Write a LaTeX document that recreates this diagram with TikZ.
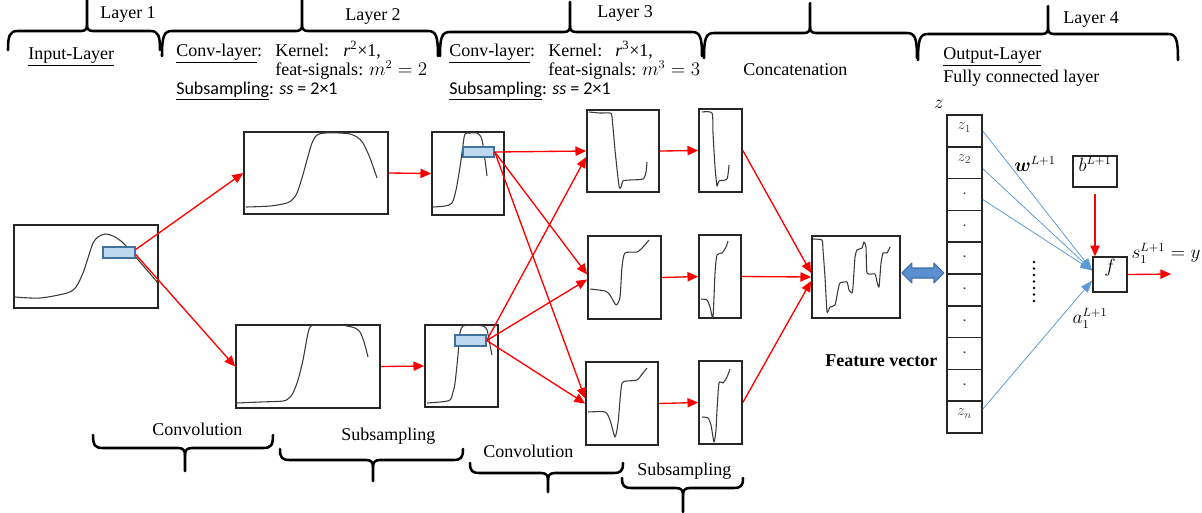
\documentclass[tikz,border=0pt]{standalone}
\usepackage{fontspec}
\usepackage{amsmath}
\setmainfont{Liberation Serif}
\newfontfamily\calfont{Carlito}
\usetikzlibrary{arrows.meta,fit,calc}

\definecolor{sigline}{HTML}{3A3A3A}
\definecolor{winfill}{HTML}{BDD7EE}
\definecolor{windraw}{HTML}{41719C}
\definecolor{wline}{HTML}{5B9BD5}
\definecolor{dblfill}{HTML}{5B8FCF}
\definecolor{dbldraw}{HTML}{3F6FA8}

\tikzset{
  plotbox/.style={draw=black!85, line width=1.3pt, inner sep=0pt, fill=white},
  winbox/.style={draw=windraw, fill=winfill, line width=1.1pt, inner sep=0pt},
  cellbox/.style={draw=black!85, line width=1.2pt, inner sep=0pt, fill=white,
                  font=\fontsize{12}{14}\selectfont, text=black!75},
  sig/.style={draw=sigline, line width=0.8pt, line join=round},
  flow/.style={red, line width=1pt, -{Triangle[length=8pt,width=7pt]}},
  wirehead/.style={wline, line width=0.6pt, -{Triangle[length=9pt,width=6.5pt]}},
  brace/.style={line width=1.9pt, line cap=round, line join=round},
  txt/.style={inner sep=0pt, anchor=base west},
  ctxt/.style={inner sep=0pt, anchor=center},
}

% curly brace: x-left, x-right, x-tip, y-line, y-ends, y-tip, cusp size (+ top, - bottom)
\newcommand\CurlyBrace[7]{%
  \draw[brace] (#1,#5) .. controls (#1,{#4+0.2*(#5-#4)}) and ({#1+2},#4) .. ({#1+10},#4)
     -- ({#3-(abs(#7))},#4) .. controls ({#3-2},#4) and (#3,{#4-0.3*(#7)}) .. (#3,{#4-(#7)})
     -- (#3,#6);
  \draw[brace] (#3,{#4-(#7)}) .. controls (#3,{#4-0.3*(#7)}) and ({#3+2},#4) .. ({#3+abs(#7)},#4)
     -- ({#2-10},#4) .. controls ({#2-2},#4) and (#2,{#4+0.2*(#5-#4)}) .. (#2,#5);}

\begin{document}
\begin{tikzpicture}[x=0.75pt, y=-0.75pt, font=\fontsize{13.5}{16}\selectfont]
\useasboundingbox (0,0) rectangle (1202,512);

% ---------- layer braces (top) ----------
\CurlyBrace{8}{160}{87}{31}{50}{-2}{6}
\CurlyBrace{162}{438}{302}{31}{56}{-2}{6}
\CurlyBrace{440}{702}{570}{32}{56}{2}{6}
\CurlyBrace{704}{917}{810}{33}{58}{3}{6}
\CurlyBrace{918}{1178}{1048}{34}{60}{6}{6}

\node[txt] (lay1) at (100,18) {Layer 1};
\node[txt] (lay2) at (345,20) {Layer 2};
\node[txt] (lay3) at (597,17) {Layer 3};
\node[txt] (lay4) at (1063,23) {Layer 4};

\node[txt] (inlay) at (28,59) {\underline{Input-Layer}};

\node[txt] (cl2) at (176,56) {\underline{Conv-layer}:};
\node[txt] (kr2) at (275,56) {Kernel:};
\node[txt] (rr2) at (343,56) {\textit{r}\textsuperscript{2}×1,};
\node[txt] (fs2) at (275,75) {feat-signals: $m^2 = 2$};
\node[txt] (ss2) at (176,94) {\calfont\underline{Subsampling}: \textit{ss} = 2×1};

\node[txt] (cl3) at (449,56) {\underline{Conv-layer}:};
\node[txt] (kr3) at (548,56) {Kernel:};
\node[txt] (rr3) at (615,56) {\textit{r}\textsuperscript{3}×1,};
\node[txt] (fs3) at (548,75) {feat-signals: $m^3 = 3$};
\node[txt] (ss3) at (449,94) {\calfont\underline{Subsampling}: \textit{ss} = 2×1};

\node[txt] (conc) at (743,75) {Concatenation};
\node[txt] (outl) at (943,59) {\underline{Output-Layer}};
\node[txt] (fcl) at (943,82) {Fully connected layer};

% ---------- signal plots ----------
\node[plotbox, fit={(14,225) (158,308)}] (in) {};
\node[plotbox, fit={(244,132) (388,214)}] (ca) {};
\node[plotbox, fit={(236,325) (380,408)}] (cb) {};
\node[plotbox, fit={(432,132) (504,215)}] (sa) {};
\node[plotbox, fit={(425,325) (498,407)}] (sb) {};
\node[plotbox, fit={(587,110) (659,192)}] (da) {};
\node[plotbox, fit={(588,236) (661,319)}] (db) {};
\node[plotbox, fit={(586,362) (658,445)}] (dc) {};
\node[plotbox, fit={(699,109) (742,192)}] (ea) {};
\node[plotbox, fit={(699,235) (741,318)}] (eb) {};
\node[plotbox, fit={(699,361) (742,444)}] (ec) {};
\node[plotbox, fit={(812,236) (900,318)}] (feat) {};

\draw[sig] plot[smooth, tension=0.5] coordinates {(15,297) (40,298) (67,293) (76,287) (83,273)
  (88,258) (93,243) (98,237) (105,234) (113,236) (121,241) (127,247) (140,262) (158,283)};
\draw[sig] plot[smooth, tension=0.5] coordinates {(246,207) (270,206) (287,203) (293,199) (297,193)
  (302,178) (307,160) (312,143) (317,135) (325,133) (340,133) (350,134) (357,137) (363,143) (370,158) (377,178)};
\draw[sig] plot[smooth, tension=0.5] coordinates {(237,403) (260,402) (283,401) (289,398) (293,393)
  (298,380) (303,360) (307,338) (310,327) (316,325) (340,325) (347,326) (355,328) (360,332) (364,342) (368,357)};
\draw[sig] plot[smooth, tension=0.5] coordinates {(433,207) (445,206) (452,203) (456,190) (460,167)
  (463,145) (465,134) (470,133) (477,133) (481,137) (483,145) (485,160) (487,176)};
\draw[sig] plot[smooth, tension=0.5] coordinates {(427,403) (440,402) (450,400) (453,392) (455,383)
  (458,355) (460,333) (463,326) (470,325) (483,326) (487,330) (489,340) (492,355)};
\draw[sig] plot[smooth, tension=0.4] coordinates {(589,112) (600,113) (610,113) (612,117) (615,150)
  (619,186) (621,187) (623,181) (630,180) (643,179) (646,172) (647,162)};
\draw[sig] plot[smooth, tension=0.4] coordinates {(590,289) (605,291) (610,295) (616,305) (620,297)
  (622,267) (625,253) (637,252) (643,247) (649,240)};
\draw[sig] plot[smooth, tension=0.4] coordinates {(588,412) (605,412) (610,420) (615,437) (618,423)
  (620,400) (622,383) (627,381) (637,380) (643,373) (647,368)};
\draw[sig] plot[smooth, tension=0.4] coordinates {(702,112) (712,113) (713,133) (715,167) (717,186)
  (719,181) (727,179) (729,165)};
\draw[sig] plot[smooth, tension=0.4] coordinates {(701,299) (707,300) (710,307) (713,317) (715,273)
  (717,255) (722,253) (726,247) (728,241)};
\draw[sig] plot[smooth, tension=0.4] coordinates {(702,417) (708,418) (711,425) (714,442) (716,430)
  (717,410) (719,383) (723,383) (727,377) (730,369)};
\draw[sig] plot[smooth, tension=0.3] coordinates {(813,239) (822,240) (823,250) (825,277) (827,312)
  (830,307) (835,305) (838,290) (840,283) (847,282) (849,290) (852,293) (853,287) (855,257) (857,250)
  (862,248) (864,242) (866,247) (867,273) (875,274) (877,282) (879,287) (881,263) (883,253) (887,253) (890,247)};

% sliding windows
\node[winbox, fit={(103,247) (135,258)}] (w0) {};
\node[winbox, fit={(463,147) (494,157)}] (w1) {};
\node[winbox, fit={(455,335) (486,346)}] (w2) {};

% ---------- data flow ----------
\draw[flow] ($(w0.east)+(0,-3)$) -- (ca.west);
\draw[flow] ($(w0.east)+(0,2)$) -- (cb.west);
\draw[flow] (ca.east) -- (sa.west);
\draw[flow] (cb.east) -- (sb.west);

\draw[flow] (w1.east) -- (da.west);
\draw[flow] (w1.east) -- ($(db.west)+(0,-3)$);
\draw[flow] (w1.east) -- ($(dc.west)+(0,-5)$);
\draw[flow] (w2.east) -- ($(da.west)+(0,6)$);
\draw[flow] (w2.east) -- ($(db.west)+(0,2)$);
\draw[flow] (w2.east) -- (dc.west);

\draw[flow] (da.east) -- (ea.west);
\draw[flow] (db.east) -- (eb.west);
\draw[flow] (dc.east) -- (ec.west);

\draw[flow] (ea.east) -- ($(feat.west)+(0,-4)$);
\draw[flow] (eb.east) -- (feat.west);
\draw[flow] (ec.east) -- ($(feat.west)+(0,4)$);

\node[txt, font=\fontsize{13.5}{16}\selectfont\bfseries] (fvec) at (825,366) {Feature vector};

% ---------- feature vector z ----------
\node[ctxt] (zlab) at (939,104) {$z$};
\foreach \i/\t in {1/{$z_1$},2/{$z_2$},3/.,4/.,5/.,6/.,7/.,8/.,9/.,10/{$z_n$}} {
  \pgfmathsetmacro\ya{115+(\i-1)*31.8}
  \pgfmathsetmacro\yb{\ya+31.8}
  \node[cellbox, fit={(947,\ya) (982,\yb)}] (z\i) {\t};
}

% double arrow between plot and vector
\coordinate (dblstart) at ($(feat.east)+(1,-4)$);
\draw[fill=dblfill, draw=dbldraw, line width=0.8pt, line join=round]
  (dblstart) -- ++(10,-10) -- ++(0,5) -- ++(22,0) -- ++(0,-5) -- ++(10,10)
  -- ++(-10,10) -- ++(0,-5) -- ++(-22,0) -- ++(0,5) -- cycle;

% ---------- output neuron ----------
\node[draw=black!85, line width=1.2pt, inner sep=0pt, fit={(1093,257) (1127,292)}] (f) {$f$};
\node[draw=black!85, line width=1.2pt, inner sep=0pt, fit={(1073,156) (1117,187)}] (b) {$b^{L+1}$};

\draw[wirehead] (z1.east) -- ($(f.west)+(0,-4)$);
\draw[wirehead] ($(z2.east)+(0,6)$) -- ($(f.west)+(0,-4)$);
\draw[wirehead] ($(z3.east)+(0,5)$) -- ($(f.west)+(0,-4)$);
\draw[wirehead] ($(z10.east)+(0,-8)$) -- ($(f.west)+(0,6)$);

\coordinate (bsrc) at (1095,194);
\draw[flow] (bsrc) -- (bsrc |- f.north);
\coordinate (yout) at (1171,274);
\draw[flow] (f.east) -- (yout);

\node[ctxt] (wlab) at (1035,164) {$\boldsymbol{w}^{L+1}$};
\node[ctxt] (alab) at (1090,318) {$a_1^{L+1}$};
\node[ctxt] (slab) at (1166,253) {$s_1^{L+1} = y$};

\foreach \k in {0,...,6} \fill (1034,{262+\k*6.5}) circle (1.4);

% ---------- stage braces (bottom) ----------
\CurlyBrace{93}{273}{185}{448}{435}{471}{-7}
\CurlyBrace{280}{463}{373}{460}{449}{481}{-7}
\CurlyBrace{470}{623}{548}{473}{463}{492}{-7}
\CurlyBrace{622}{743}{683}{488}{478}{512}{-7}

\node[txt] (conv1) at (152,435) {Convolution};
\node[txt] (sub1) at (341,440) {Subsampling};
\node[txt] (conv2) at (483,457) {Convolution};
\node[txt] (sub2) at (637,475) {Subsampling};
\end{tikzpicture}
\end{document}
